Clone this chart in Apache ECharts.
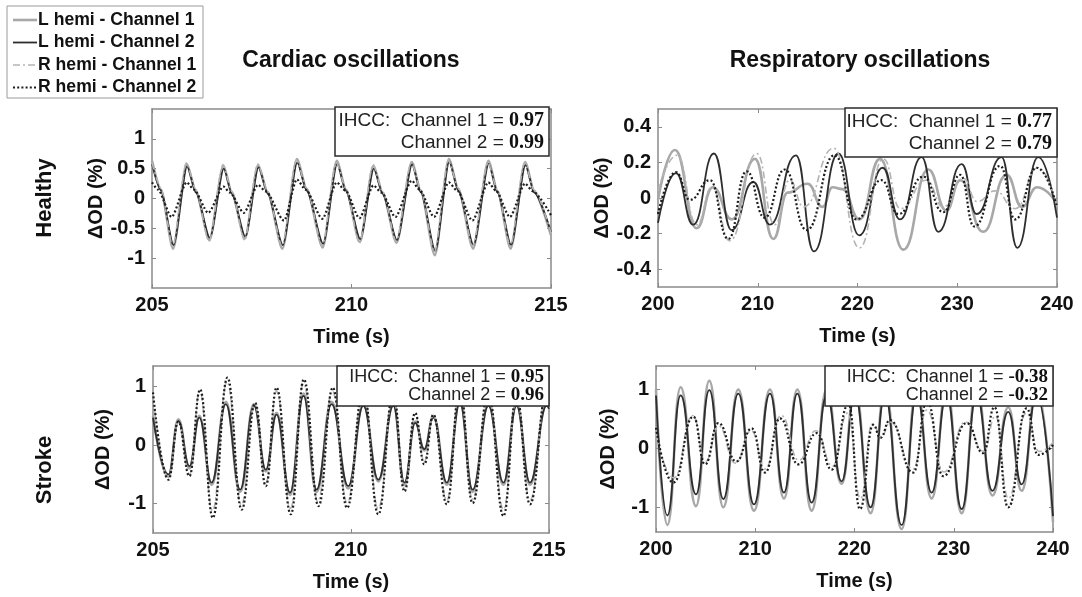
<!DOCTYPE html>
<html>
<head>
<meta charset="utf-8">
<script src="https://cdn.jsdelivr.net/npm/echarts@6/dist/echarts.min.js"></script>
<style>
  html, body { margin: 0; padding: 0; background: #fff; }
  #chart { width: 1082px; height: 597px; }
</style>
</head>
<body>
<div id="chart"></div>
<script>
  // legend / series names
  const seriesNames = ['L hemi - Channel 1', 'L hemi - Channel 2', 'R hemi - Channel 1', 'R hemi - Channel 2'];
  const colTitles = ['Cardiac oscillations', 'Respiratory oscillations'];
  const rowTitles = ['Healthy', 'Stroke'];

  // tick labels
  const cardiacXTicks = [205, 210, 215];
  const respXTicks = [200, 210, 220, 230, 240];
  const healthyCardiacYTicks = [-1, -0.5, 0, 0.5, 1];
  const healthyRespYTicks = [-0.4, -0.2, 0, 0.2, 0.4];
  const strokeYTicks = [-1, 0, 1];

  // IHCC values per panel: [channel 1, channel 2]
  const ihccValues = [['0.97', '0.99'], ['0.77', '0.79'], ['0.95', '0.96'], ['-0.38', '-0.32']];

  // ---- data: [time (s), dOD (%)] ----
  // healthy, cardiac
  const healthyCardiacL1 = [[205.0,0.63],[205.22,0.15],[205.53,-0.84],[205.87,0.58],[206.1,0.12],[206.44,-0.70],[206.79,0.55],[207.0,0.1],[207.33,-0.67],[207.66,0.56],[207.9,0.1],[208.27,-0.84],[208.63,0.66],[208.88,0.15],[209.28,-0.82],[209.63,0.63],[209.86,0.15],[210.21,-0.73],[210.55,0.55],[210.78,0.1],[211.13,-0.74],[211.51,0.61],[211.74,0.12],[212.09,-0.95],[212.44,0.66],[212.68,0.15],[213.05,-0.84],[213.43,0.63],[213.66,0.12],[213.99,-0.84],[214.35,0.61],[214.58,0.12],[215.0,-0.62]];
  const healthyCardiacL2 = [[205.0,0.58],[205.22,0.14],[205.54,-0.78],[205.88,0.54],[206.1,0.1],[206.45,-0.66],[206.8,0.5],[207.0,0.08],[207.34,-0.64],[207.67,0.52],[207.9,0.08],[208.28,-0.78],[208.64,0.6],[208.88,0.13],[209.29,-0.76],[209.64,0.58],[209.86,0.13],[210.22,-0.68],[210.56,0.5],[210.78,0.08],[211.14,-0.7],[211.52,0.57],[211.74,0.1],[212.1,-0.88],[212.45,0.62],[212.68,0.13],[213.06,-0.78],[213.44,0.58],[213.66,0.1],[214.0,-0.78],[214.36,0.56],[214.58,0.1],[215.0,-0.56]];
  const healthyCardiacR1 = [[205.0,0.6],[205.22,0.18],[205.52,-0.8],[205.86,0.6],[206.1,0.15],[206.43,-0.72],[206.78,0.57],[207.0,0.12],[207.32,-0.7],[207.65,0.58],[207.9,0.12],[208.26,-0.8],[208.62,0.64],[208.88,0.17],[209.27,-0.8],[209.62,0.6],[209.86,0.17],[210.2,-0.75],[210.54,0.57],[210.78,0.12],[211.12,-0.72],[211.5,0.6],[211.74,0.14],[212.08,-0.9],[212.43,0.64],[212.68,0.17],[213.04,-0.8],[213.42,0.6],[213.66,0.14],[213.98,-0.8],[214.34,0.6],[214.58,0.14],[215.0,-0.58]];
  const healthyCardiacR2 = [[205.0,0.27],[205.15,0.15],[205.49,-0.31],[205.87,0.27],[206.05,0.15],[206.41,-0.24],[206.79,0.2],[206.95,0.1],[207.3,-0.24],[207.66,0.23],[207.85,0.12],[208.31,-0.37],[208.63,0.32],[208.85,0.15],[209.27,-0.34],[209.63,0.27],[209.85,0.13],[210.2,-0.33],[210.55,0.22],[210.75,0.1],[211.1,-0.31],[211.51,0.3],[211.7,0.15],[212.07,-0.31],[212.44,0.27],[212.65,0.13],[213.03,-0.37],[213.43,0.27],[213.62,0.13],[213.97,-0.31],[214.35,0.25],[214.55,0.12],[215.0,-0.28]];

  // healthy, respiratory
  const healthyRespL1 = [[200,-0.01],[201.7,0.27],[203.87,-0.17],[205.5,0.06],[207.4,-0.12],[209.72,0.22],[211.56,-0.23],[213.0,0.03],[215.0,0.08],[216.5,-0.05],[217.5,0.06],[218.5,0.05],[220.2,-0.12],[222.25,0.22],[224.6,-0.29],[227.1,0.16],[228.9,-0.07],[230.3,0.1],[232.6,-0.19],[234.95,0.13],[236.5,-0.05],[238.0,0.06],[240,-0.03]];
  const healthyRespL2 = [[200,-0.14],[201.8,0.14],[203.54,-0.15],[205.6,0.25],[207.38,-0.18],[209.55,0.09],[211.22,-0.15],[213.83,0.24],[215.63,-0.3],[218.08,0.25],[220.18,-0.21],[222.52,0.17],[224.26,-0.12],[226.43,0.23],[228.1,-0.19],[230.44,0.19],[231.94,-0.09],[234.45,0.23],[236.02,-0.28],[238.12,0.23],[240,-0.11]];
  const healthyRespR1 = [[200,0.04],[201.9,0.24],[203.9,-0.15],[205.4,0.06],[207.2,-0.24],[209.9,0.25],[211.7,-0.15],[213.2,0.1],[214.6,-0.05],[217.6,0.28],[220.2,-0.28],[222.6,0.22],[224.3,-0.06],[226.9,0.1],[228.6,-0.05],[230.6,0.11],[232.0,-0.02],[233.8,0.04],[235.8,-0.06],[238.1,0.17],[240,-0.05]];
  const healthyRespR2 = [[200,-0.09],[201.8,0.145],[203.2,-0.01],[205.2,0.1],[207.05,-0.23],[208.88,0.15],[210.7,-0.11],[212.7,0.16],[214.9,-0.18],[217.7,0.24],[219.9,-0.12],[222.4,0.1],[224.1,-0.09],[226.6,0.12],[228.6,-0.08],[230.3,0.13],[231.7,-0.16],[234.3,0.18],[235.8,-0.12],[237.96,0.17],[240,-0.05]];

  // stroke, cardiac
  const strokeCardiacL1 = [[205.0,0.5],[205.39,-0.54],[205.64,0.44],[205.92,-0.4],[206.17,0.5],[206.48,-0.68],[206.84,0.74],[207.2,-0.8],[207.55,0.7],[207.85,-0.45],[208.12,0.55],[208.46,-0.85],[208.8,0.88],[209.13,-0.8],[209.51,0.74],[209.93,-0.74],[210.31,0.7],[210.69,-0.62],[211.07,0.7],[211.35,-0.68],[211.62,0.4],[211.85,-0.09],[212.08,0.5],[212.42,-0.68],[212.75,0.76],[213.07,-0.8],[213.47,0.7],[213.85,-0.68],[214.18,0.7],[214.52,-0.68],[214.94,0.7],[215,0.65]];
  const strokeCardiacL2 = [[205.0,0.47],[205.39,-0.5],[205.64,0.41],[205.92,-0.36],[206.17,0.47],[206.48,-0.64],[206.84,0.7],[207.2,-0.76],[207.55,0.67],[207.85,-0.42],[208.12,0.52],[208.46,-0.81],[208.8,0.84],[209.13,-0.76],[209.51,0.7],[209.93,-0.7],[210.31,0.67],[210.69,-0.59],[211.07,0.67],[211.35,-0.64],[211.62,0.38],[211.85,-0.07],[212.08,0.47],[212.42,-0.64],[212.75,0.72],[213.07,-0.76],[213.47,0.67],[213.85,-0.64],[214.18,0.67],[214.52,-0.64],[214.94,0.67],[215,0.62]];
  const strokeCardiacR1 = [[205.0,0.85],[205.39,-0.56],[205.64,0.4],[205.92,-0.5],[206.18,0.92],[206.5,-1.12],[206.87,1.08],[207.23,-1.02],[207.57,0.7],[207.85,-0.64],[208.12,0.92],[208.47,-1.08],[208.8,1.05],[209.16,-0.96],[209.53,0.92],[209.9,-0.98],[210.31,0.9],[210.69,-1.08],[211.07,0.85],[211.35,-0.74],[211.62,0.52],[211.85,-0.28],[212.08,0.5],[212.42,-0.94],[212.75,0.94],[213.07,-0.92],[213.47,0.85],[213.85,-1.1],[214.18,0.8],[214.52,-0.94],[214.94,0.85],[215,0.8]];
  const strokeCardiacR2 = [[205.0,0.9],[205.39,-0.59],[205.64,0.4],[205.92,-0.53],[206.19,0.95],[206.51,-1.24],[206.88,1.15],[207.24,-1.1],[207.58,0.72],[207.85,-0.7],[208.12,0.98],[208.48,-1.18],[208.81,1.12],[209.18,-1.04],[209.54,0.98],[209.9,-1.07],[210.31,0.95],[210.69,-1.18],[211.07,0.9],[211.35,-0.79],[211.62,0.55],[211.85,-0.33],[212.08,0.52],[212.42,-1.01],[212.75,1.0],[213.07,-0.99],[213.47,0.9],[213.85,-1.21],[214.18,0.85],[214.52,-1.01],[214.94,0.9],[215,0.85]];

  // stroke, respiratory
  const strokeRespL1 = [[200,1.0],[201.14,-1.3],[202.48,1.04],[204.03,-0.98],[205.37,1.15],[206.78,-1.0],[208.29,1.0],[209.87,-1.06],[211.48,1.0],[212.89,-0.85],[214.24,1.0],[215.68,-1.06],[217.2,1.0],[218.7,-0.6],[220.05,1.0],[221.62,-1.1],[223.07,1.0],[224.75,-1.37],[226.26,1.0],[227.77,-0.85],[229.28,1.0],[230.8,-1.1],[232.3,1.0],[233.9,-0.8],[235.49,0.7],[236.84,-0.72],[238.35,1.0],[240,-1.25]];
  const strokeRespL2 = [[200,0.9],[201.14,-1.14],[202.48,0.9],[204.03,-0.78],[205.37,0.99],[206.78,-0.86],[208.29,0.93],[209.87,-0.95],[211.48,0.93],[212.89,-0.75],[214.24,0.93],[215.68,-0.92],[217.2,0.9],[218.7,-0.56],[220.05,0.9],[221.62,-1.0],[223.07,0.9],[224.75,-1.3],[226.26,0.9],[227.77,-0.75],[229.28,0.9],[230.8,-1.03],[232.3,0.9],[233.9,-0.72],[235.49,0.62],[236.84,-0.61],[238.35,0.9],[240,-1.15]];
  const strokeRespR1 = [[200,0.25],[201.8,-0.5],[203.7,0.56],[205.0,-0.22],[206.3,0.38],[208.0,-0.25],[209.6,0.3],[211.0,-0.35],[212.6,0.56],[214.4,-0.2],[216.1,0.3],[217.8,-0.3],[219.3,0.6],[220.6,-0.85],[221.8,0.42],[222.7,0.2],[223.6,0.45],[225.9,-0.35],[227.3,0.65],[229.0,-0.4],[231.2,0.45],[233.0,-0.05],[234.2,0.55],[235.5,-0.85],[237.3,0.6],[238.6,-0.05],[240,0.1]];
  const strokeRespR2 = [[200,0.35],[201.75,-0.58],[203.76,0.54],[204.94,-0.27],[206.28,0.43],[208.1,-0.22],[209.64,0.34],[210.98,-0.41],[212.49,0.51],[214.34,-0.27],[216.2,0.26],[217.7,-0.36],[219.4,0.75],[220.55,-1.03],[221.89,0.4],[222.6,0.18],[223.57,0.48],[225.92,-0.41],[227.3,0.8],[228.94,-0.47],[231.3,0.43],[232.97,-0.08],[234.1,0.7],[235.49,-1.0],[237.34,0.68],[238.5,-0.11],[240,0.06]];

  // ---- layout ----
  const FONT = "'Liberation Sans', Arial, sans-serif";
  const SERIF = "'Liberation Serif', 'Times New Roman', serif";
  const frameColor = '#8a8a8a';

  const panels = [
    { grid: {left: 152, top: 109, width: 399, height: 179}, x: [205, 215], xTicks: cardiacXTicks,
      y: [-1.5, 1.5], yTicks: healthyCardiacYTicks, nameGap: 44, smooth: 0.25,
      data: [healthyCardiacL1, healthyCardiacL2, healthyCardiacR1, healthyCardiacR2],
      box: {x: 335, y: 107, w: 214, h: 49, fs: 19} },
    { grid: {left: 658, top: 109, width: 399, height: 178}, x: [200, 240], xTicks: respXTicks,
      y: [-0.5, 0.5], yTicks: healthyRespYTicks, nameGap: 42, smooth: 0.5,
      data: [healthyRespL1, healthyRespL2, healthyRespR1, healthyRespR2],
      box: {x: 845, y: 108, w: 212, h: 49, fs: 19} },
    { grid: {left: 153, top: 366, width: 396, height: 167}, x: [205, 215], xTicks: cardiacXTicks,
      y: [-1.5, 1.35], yTicks: strokeYTicks, nameGap: 40, smooth: 0.45,
      data: [strokeCardiacL1, strokeCardiacL2, strokeCardiacR1, strokeCardiacR2],
      box: {x: 337, y: 366, w: 212, h: 40, fs: 18} },
    { grid: {left: 656, top: 366, width: 397, height: 166}, x: [200, 240], xTicks: respXTicks,
      y: [-1.42, 1.4], yTicks: strokeYTicks, nameGap: 38, smooth: 0.5,
      data: [strokeRespL1, strokeRespL2, strokeRespR1, strokeRespR2],
      box: {x: 825, y: 366, w: 228, h: 40, fs: 18} }
  ];

  const lineStyles = [
    {color: '#a8a8a8', width: 2.6, type: 'solid'},
    {color: '#2e2e2e', width: 1.8, type: 'solid'},
    {color: '#b4b4b4', width: 1.6, type: [7, 3, 2, 3]},
    {color: '#1c1c1c', width: 2.2, type: [2, 2.2]}
  ];

  const labelText = {color: '#111', fontSize: 20, fontWeight: 'bold', fontFamily: FONT};

  const grid = [], xAxis = [], yAxis = [], series = [], graphic = [];

  panels.forEach(function (p, i) {
    grid.push(Object.assign({containLabel: false}, p.grid));
    const frame = {show: true, onZero: false, lineStyle: {color: frameColor, width: 1.5}};
    // bottom + top x axes
    xAxis.push({
      type: 'value', gridIndex: i, min: p.x[0], max: p.x[1], position: 'bottom',
      axisLine: frame,
      axisTick: {show: true, inside: true, length: 4, customValues: p.xTicks, lineStyle: {color: frameColor}},
      axisLabel: Object.assign({customValues: p.xTicks, margin: 7}, labelText),
      splitLine: {show: false},
      name: 'Time (s)', nameLocation: 'middle', nameGap: 39, nameTextStyle: labelText
    });
    xAxis.push({
      type: 'value', gridIndex: i, min: p.x[0], max: p.x[1], position: 'top',
      axisLine: frame,
      axisTick: {show: true, inside: true, length: 4, customValues: p.xTicks, lineStyle: {color: frameColor}},
      axisLabel: {show: false}, splitLine: {show: false}
    });
    // left + right y axes
    yAxis.push({
      type: 'value', gridIndex: i, min: p.y[0], max: p.y[1], position: 'left',
      axisLine: frame,
      axisTick: {show: true, inside: true, length: 4, customValues: p.yTicks, lineStyle: {color: frameColor}},
      axisLabel: Object.assign({customValues: p.yTicks, margin: 7}, labelText),
      splitLine: {show: false},
      name: '\u0394OD (%)', nameLocation: 'middle', nameGap: p.nameGap, nameTextStyle: labelText
    });
    yAxis.push({
      type: 'value', gridIndex: i, min: p.y[0], max: p.y[1], position: 'right',
      axisLine: frame,
      axisTick: {show: true, inside: true, length: 4, customValues: p.yTicks, lineStyle: {color: frameColor}},
      axisLabel: {show: false}, splitLine: {show: false}
    });

    p.data.forEach(function (d, k) {
      series.push({
        name: seriesNames[k], type: 'line', xAxisIndex: 2 * i, yAxisIndex: 2 * i,
        data: d, showSymbol: false, symbol: 'none', smooth: p.smooth, smoothMonotone: 'x',
        lineStyle: lineStyles[k], itemStyle: {color: lineStyles[k].color},
        z: 2 + k, animation: false, silent: true
      });
    });

    // IHCC text box (drawn above the lines)
    const b = p.box;
    const lh = b.h > 45 ? 23 : 19;
    const rich = {v: {fontFamily: SERIF, fontWeight: 'bold', fontSize: b.fs + 1, fill: '#111'}};
    graphic.push({type: 'rect', x: b.x, y: b.y, z: 100, shape: {x: 0, y: 0, width: b.w, height: b.h},
      style: {fill: '#fff', stroke: '#2a2a2a', lineWidth: 1.5}});
    graphic.push({type: 'text', x: b.x + b.w - 5, y: b.y + b.h / 2 - lh / 2 + 1, z: 101,
      style: {text: 'IHCC:  Channel 1 = {v|' + ihccValues[i][0] + '}', align: 'right', verticalAlign: 'middle',
        fontFamily: FONT, fontSize: b.fs, fill: '#222', rich: rich}});
    graphic.push({type: 'text', x: b.x + b.w - 5, y: b.y + b.h / 2 + lh / 2, z: 101,
      style: {text: 'Channel 2 = {v|' + ihccValues[i][1] + '}', align: 'right', verticalAlign: 'middle',
        fontFamily: FONT, fontSize: b.fs, fill: '#222', rich: rich}});
  });

  // row labels
  graphic.push({type: 'text', x: 45, y: 198, rotation: Math.PI / 2, z: 100,
    style: {text: rowTitles[0], align: 'center', verticalAlign: 'middle', fontFamily: FONT, fontSize: 22, fontWeight: 'bold', fill: '#111'}});
  graphic.push({type: 'text', x: 45, y: 470, rotation: Math.PI / 2, z: 100,
    style: {text: rowTitles[1], align: 'center', verticalAlign: 'middle', fontFamily: FONT, fontSize: 22, fontWeight: 'bold', fill: '#111'}});

  // legend box drawn by hand so the samples keep the line dashes
  graphic.push({type: 'rect', x: 7, y: 6, z: 100, shape: {x: 0, y: 0, width: 196, height: 92},
    style: {fill: '#fff', stroke: '#9a9a9a', lineWidth: 1}});
  seriesNames.forEach(function (name, k) {
    const y = 20 + k * 22.5;
    const s = lineStyles[k];
    graphic.push({type: 'line', z: 101, shape: {x1: 13, y1: y, x2: 37, y2: y},
      style: {stroke: s.color, lineWidth: s.width, lineDash: s.type === 'solid' ? null : s.type}});
    graphic.push({type: 'text', x: 38, y: y, z: 101,
      style: {text: name, verticalAlign: 'middle', fontFamily: FONT, fontSize: 17.6, fontWeight: 'bold', fill: '#111'}});
  });

  const titleStyle = {color: '#111', fontSize: 23, fontWeight: 'bold', fontFamily: FONT};

  const option = {
    backgroundColor: '#fff',
    animation: false,
    title: [
      {text: colTitles[0], left: 346, top: 44, textAlign: 'center', textStyle: titleStyle},
      {text: colTitles[1], left: 855, top: 44, textAlign: 'center', textStyle: titleStyle}
    ],
    grid: grid, xAxis: xAxis, yAxis: yAxis, series: series, graphic: graphic
  };

  const chart = echarts.init(document.getElementById('chart'), null, {renderer: 'canvas'});
  chart.setOption(option);
</script>
</body>
</html>
